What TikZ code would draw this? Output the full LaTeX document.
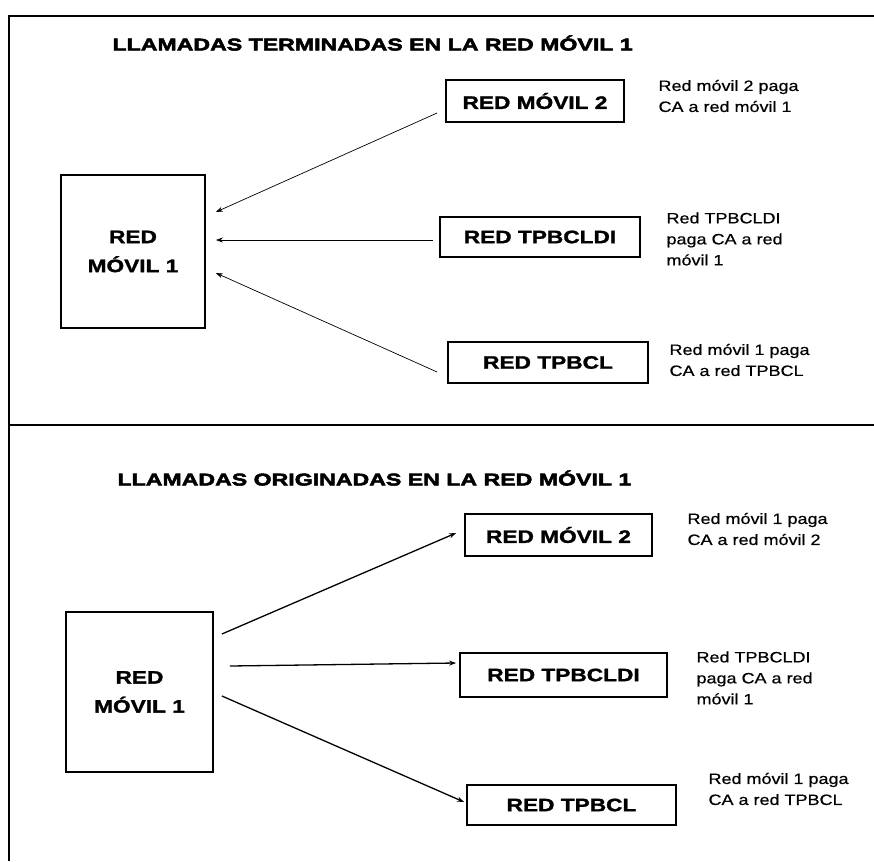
\documentclass[tikz,border=0pt]{standalone}
\usepackage{fontspec}
\setmainfont{Liberation Sans}
\newfontfamily\headfont[FakeStretch=1.36,FakeBold=3]{Liberation Sans Bold}
\newfontfamily\netfont[FakeStretch=1.26,FakeBold=1.6]{Liberation Sans Bold}
\newfontfamily\notefont[FakeStretch=1.2,FakeBold=0.6]{Liberation Sans}
\usetikzlibrary{arrows.meta}
\begin{document}
\begin{tikzpicture}[
            x=1pt, y=-1pt,
            net/.style={draw, line width=1.8pt, inner sep=0pt, align=center,
                font=\netfont\fontsize{18}{29}\selectfont},
            title/.style={anchor=west, font=\headfont\fontsize{17}{20}\selectfont},
            note/.style={anchor=west, align=left, font=\notefont\fontsize{15}{21}\selectfont},
            flow/.style={-{Stealth[length=7pt,width=5pt]}, line width=0.7pt}
        ]
        \useasboundingbox (0,0) rectangle (874,861);
        \draw[line width=1.7pt] (874,16) -- (9,16) -- (9,861);
        \draw[line width=1.7pt] (9,425) -- (874,425);

        % terminadas
        \node[title] (T1) at (109,43) {LLAMADAS TERMINADAS EN LA RED MÓVIL 1};
        \node[net, minimum width=144pt, minimum height=153pt] (M1a) at (133,251.5) {RED\\MÓVIL 1};
        \node[net, minimum width=178pt, minimum height=42pt] (M2a) at (535,101) {RED MÓVIL 2};
        \node[net, minimum width=200pt, minimum height=40pt] (TDa) at (540,237) {RED TPBCLDI};
        \node[net, minimum width=200pt, minimum height=41pt] (TPa) at (548,362.5) {RED TPBCL};

        \node[note] (N1a) at (655,96) {Red móvil 2 paga\\CA a red móvil 1};
        \node[note] (N2a) at (663,239) {Red TPBCLDI\\paga CA a red\\móvil 1};
        \node[note] (N3a) at (666,360) {Red móvil 1 paga\\CA a red TPBCL};

        \draw[flow] ([xshift=-8pt,yshift=-12pt]M2a.west) -- ([xshift=10pt,yshift=39.5pt]M1a.east);
        \draw[flow] ([xshift=-6pt,yshift=-3pt]TDa.west) -- ([xshift=10pt,yshift=11.5pt]M1a.east);
        \draw[flow] ([xshift=-10pt,yshift=-9.5pt]TPa.west) -- ([xshift=10pt,yshift=-21.5pt]M1a.east);

        % originadas
        \node[title] (T2) at (114,478) {LLAMADAS ORIGINADAS EN LA RED MÓVIL 1};
        \node[net, minimum width=147pt, minimum height=160pt] (M1b) at (139.5,692) {RED\\MÓVIL 1};
        \node[net, minimum width=187pt, minimum height=42pt] (M2b) at (558.5,535) {RED MÓVIL 2};
        \node[net, minimum width=207pt, minimum height=44pt] (TDb) at (563.5,675) {RED TPBCLDI};
        \node[net, minimum width=209pt, minimum height=40pt] (TPb) at (571.5,805) {RED TPBCL};

        \node[note] (N1b) at (684,529) {Red móvil 1 paga\\CA a red móvil 2};
        \node[note] (N2b) at (693,678) {Red TPBCLDI\\paga CA a red\\móvil 1};
        \node[note] (N3b) at (705,789) {Red móvil 1 paga\\CA a red TPBCL};

        \draw[flow, line width=1.3pt] ([xshift=8pt,yshift=58pt]M1b.east) -- ([xshift=-8pt,yshift=2pt]M2b.west);
        \draw[flow, line width=1.3pt] ([xshift=16pt,yshift=26pt]M1b.east) -- ([xshift=-3pt,yshift=12pt]TDb.west);
        \draw[flow, line width=1.3pt] ([xshift=8pt,yshift=-4pt]M1b.east) -- ([xshift=-2pt,yshift=3pt]TPb.west);
    \end{tikzpicture}
\end{document}
